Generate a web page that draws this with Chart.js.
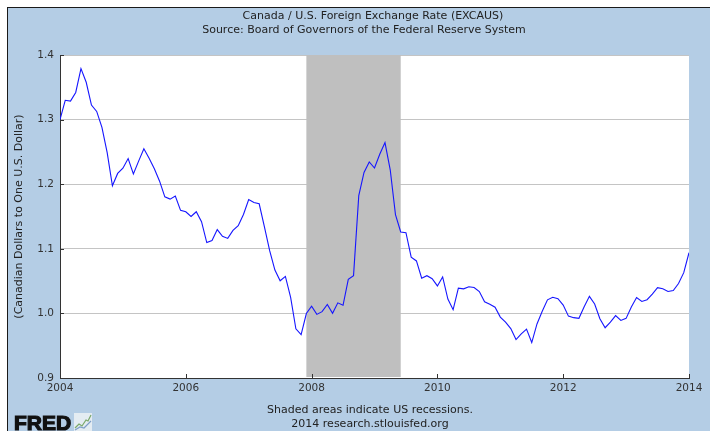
<!DOCTYPE html>
<html>
<head>
<meta charset="utf-8">
<script src="https://cdn.jsdelivr.net/npm/chart.js@4/dist/chart.umd.min.js"></script>
<style>
  html, body { margin: 0; padding: 0; background: #ffffff; }
  #wrap { width: 710px; height: 431px; position: relative; }
</style>
</head>
<body>
<div id="wrap"><canvas id="c" width="710" height="431"></canvas></div>
<script>
// ---- Data (monthly, Jan 2004 .. Jan 2014) ----
const startYear = 2004;
const excaus2004 = [1.300, 1.3299, 1.3286, 1.3420, 1.3789, 1.3578, 1.3225, 1.3127, 1.2880, 1.2489, 1.1975, 1.2167];
const excaus2005 = [1.2247, 1.2397, 1.2158, 1.2357, 1.2548, 1.2402, 1.2239, 1.2047, 1.1804, 1.1769, 1.1817, 1.1595];
const excaus2006 = [1.1573, 1.1500, 1.1574, 1.1420, 1.1096, 1.1128, 1.1298, 1.1194, 1.1161, 1.1285, 1.1359, 1.1532];
const excaus2007 = [1.1762, 1.1716, 1.1697, 1.1341, 1.0970, 1.0671, 1.0505, 1.0572, 1.0247, 0.9761, 0.9672, 0.9998];
const excaus2008 = [1.0111, 0.9985, 1.0027, 1.0138, 1.0002, 1.0163, 1.0125, 1.0527, 1.0585, 1.1822, 1.2182, 1.2344];
const excaus2009 = [1.2250, 1.2463, 1.2645, 1.2223, 1.1530, 1.1261, 1.1250, 1.0871, 1.0812, 1.0544, 1.0583, 1.0538];
const excaus2010 = [1.0425, 1.0564, 1.0222, 1.0058, 1.0391, 1.0380, 1.0413, 1.0400, 1.0338, 1.0181, 1.0143, 1.0096];
const excaus2011 = [0.9943, 0.9866, 0.9765, 0.9596, 0.9684, 0.9756, 0.9549, 0.9837, 1.0033, 1.0210, 1.0249, 1.0228];
const excaus2012 = [1.0128, 0.9958, 0.9934, 0.9924, 1.0104, 1.0264, 1.0145, 0.9918, 0.9778, 0.9865, 0.9965, 0.9891];
const excaus2013 = [0.9923, 1.0098, 1.0245, 1.0185, 1.0212, 1.0300, 1.0398, 1.0381, 1.0339, 1.0354, 1.0462, 1.0631];
const excaus2014 = [1.0939];

// x-axis tick labels (every two years) and their month offsets from Jan 2004
const yearLabels = ['2004', '2006', '2008', '2010', '2012', '2014'];
const yearTickMonths = [0, 24, 48, 72, 96, 120];
// y-axis ticks
const yTicks = [0.9, 1.0, 1.1, 1.2, 1.3, 1.4];
// recession (months from Jan 2004): Dec 2007 .. Jun 2009
const recessionStart = 47;
const recessionEnd = 65;

const titleLines = ['Canada / U.S. Foreign Exchange Rate (EXCAUS)', 'Source: Board of Governors of the Federal Reserve System'];
const yTitle = '(Canadian Dollars to One U.S. Dollar)';
const footerLines = ['Shaded areas indicate US recessions.', '2014 research.stlouisfed.org'];

const allValues = [].concat(excaus2004, excaus2005, excaus2006, excaus2007, excaus2008,
  excaus2009, excaus2010, excaus2011, excaus2012, excaus2013, excaus2014);
const points = allValues.map((v, i) => ({ x: i, y: v }));

const FONT = '"DejaVu Sans", sans-serif';

const framePlugin = {
  id: 'frame',
  beforeDraw(chart) {
    const ctx = chart.ctx;
    ctx.save();
    ctx.fillStyle = '#ffffff';
    ctx.fillRect(0, 0, chart.width, chart.height);
    ctx.fillStyle = '#b4cde5';
    ctx.fillRect(7, 7, chart.width - 7, chart.height - 7);
    ctx.fillStyle = '#1a1a1a';
    ctx.fillRect(7, 7, chart.width - 7, 1);
    ctx.fillRect(7, 7, 1, chart.height - 7);
    const a = chart.chartArea;
    ctx.fillStyle = '#ffffff';
    ctx.fillRect(a.left, a.top, a.right - a.left, a.bottom - a.top);
    ctx.restore();
  },
  beforeDatasetsDraw(chart) {
    const ctx = chart.ctx, a = chart.chartArea, x = chart.scales.x;
    const x0 = x.getPixelForValue(recessionStart);
    const x1 = x.getPixelForValue(recessionEnd);
    ctx.save();
    ctx.fillStyle = '#bfbfbf';
    ctx.fillRect(x0, a.top, x1 - x0, a.bottom - a.top - 1);
    ctx.restore();
  },
  afterDraw(chart) {
    const ctx = chart.ctx, a = chart.chartArea;
    const xs = chart.scales.x, ys = chart.scales.y;
    ctx.save();
    // inward tick marks
    ctx.strokeStyle = '#333333';
    ctx.lineWidth = 1;
    ctx.beginPath();
    yTicks.forEach(v => {
      const py = Math.round(ys.getPixelForValue(v)) + 0.5;
      ctx.moveTo(a.left, py); ctx.lineTo(a.left + 4, py);
    });
    yearTickMonths.forEach(m => {
      const px = Math.round(xs.getPixelForValue(m)) + 0.5;
      ctx.moveTo(px, a.bottom); ctx.lineTo(px, a.bottom - 4);
    });
    ctx.stroke();

    ctx.fillStyle = '#222222';
    ctx.textAlign = 'center';
    ctx.textBaseline = 'middle';
    ctx.font = '11px ' + FONT;
    ctx.fillText(titleLines[0], 373, 16);
    ctx.fillText(titleLines[1], 364, 30);
    ctx.fillText(footerLines[0], 370, 410);
    ctx.fillText(footerLines[1], 370, 424);

    ctx.save();
    ctx.translate(19, (a.top + a.bottom) / 2);
    ctx.rotate(-Math.PI / 2);
    ctx.font = '11px ' + FONT;
    ctx.fillText(yTitle, 0, 0);
    ctx.restore();

    // FRED logo
    ctx.textAlign = 'left';
    ctx.textBaseline = 'alphabetic';
    ctx.fillStyle = '#111111';
    ctx.strokeStyle = '#111111';
    ctx.lineWidth = 1.2;
    ctx.font = 'bold 21px "Liberation Sans", Arial, sans-serif';
    ctx.fillText('FRED', 14, 430);
    ctx.strokeText('FRED', 14, 430);
    // small chart icon
    ctx.fillStyle = '#e4ecf2';
    ctx.fillRect(74, 413, 18, 18);
    ctx.strokeStyle = '#7aa86a';
    ctx.lineWidth = 1.2;
    ctx.beginPath();
    ctx.moveTo(75, 428); ctx.lineTo(79, 424); ctx.lineTo(82, 426); ctx.lineTo(86, 420); ctx.lineTo(88, 421); ctx.lineTo(91, 415);
    ctx.stroke();
    ctx.strokeStyle = '#7f9fc8';
    ctx.beginPath();
    ctx.moveTo(75, 430); ctx.lineTo(80, 427); ctx.lineTo(84, 428); ctx.lineTo(91, 421);
    ctx.stroke();
    ctx.restore();
  }
};

new Chart(document.getElementById('c'), {
  type: 'line',
  data: {
    datasets: [{
      data: points,
      borderColor: '#1515ff',
      borderWidth: 1.1,
      pointRadius: 0,
      tension: 0,
      fill: false
    }]
  },
  options: {
    responsive: false,
    animation: false,
    devicePixelRatio: 1,
    layout: { padding: { left: 8, top: 55, right: 21, bottom: 33 } },
    plugins: { legend: { display: false }, tooltip: { enabled: false } },
    scales: {
      x: {
        type: 'linear',
        min: 0,
        max: 120,
        afterBuildTicks(scale) { scale.ticks = yearTickMonths.map(v => ({ value: v })); },
        afterFit(scale) { scale.height = 20; },
        ticks: {
          autoSkip: false,
          maxRotation: 0,
          padding: 4,
          color: '#333333',
          font: { family: FONT, size: 10.5 },
          callback(v) { const i = yearTickMonths.indexOf(v); return i >= 0 ? yearLabels[i] : ''; }
        },
        grid: { display: false, drawTicks: false },
        border: { display: true, color: '#333333', width: 1 }
      },
      y: {
        min: 0.9,
        max: 1.4,
        afterBuildTicks(scale) { scale.ticks = yTicks.map(v => ({ value: v })); },
        afterFit(scale) { scale.width = 52; },
        ticks: {
          padding: 6,
          color: '#333333',
          font: { family: FONT, size: 10.5 },
          callback(v) { return Number(v).toFixed(1); }
        },
        grid: { color: '#c4c4c4', lineWidth: 1, drawTicks: false },
        border: { display: true, color: '#333333', width: 1 }
      }
    }
  },
  plugins: [framePlugin]
});
</script>
</body>
</html>
